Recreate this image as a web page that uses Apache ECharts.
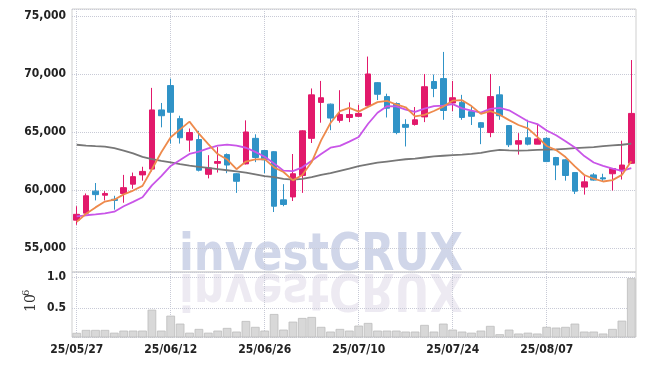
<!DOCTYPE html>
<html>
<head>
<meta charset="utf-8">
<script src="https://cdn.jsdelivr.net/npm/echarts@6/dist/echarts.min.js"></script>
<style>
html,body{margin:0;padding:0;background:#fff;}
#chart{width:645px;height:366px;}
</style>
</head>
<body>
<div id="chart"></div>
<script>
const dates = ['25/05/27','25/05/28','25/05/29','25/05/30','25/06/02','25/06/04','25/06/05','25/06/09','25/06/10','25/06/11',
'25/06/12','25/06/13','25/06/16','25/06/17','25/06/18','25/06/19','25/06/20','25/06/23','25/06/24','25/06/25',
'25/06/26','25/06/27','25/06/30','25/07/01','25/07/02','25/07/03','25/07/04','25/07/07','25/07/08','25/07/09',
'25/07/10','25/07/11','25/07/14','25/07/15','25/07/16','25/07/17','25/07/18','25/07/21','25/07/22','25/07/23',
'25/07/24','25/07/25','25/07/28','25/07/29','25/07/30','25/07/31','25/08/01','25/08/04','25/08/05','25/08/06',
'25/08/07','25/08/08','25/08/11','25/08/12','25/08/13','25/08/14','25/08/18','25/08/19','25/08/20','25/08/21'];

const opens = [57400,58000,59900,59550,59200,59700,60500,61300,61800,66900,
69000,66150,64300,64350,61350,62300,63050,61400,62250,64450,
63400,63300,59150,59400,61250,64450,67550,67400,66000,66250,
66350,67250,69250,68050,67450,65650,65650,66300,69350,69600,
67500,67550,66750,65800,64950,68200,65550,63950,64500,63950,
64450,62800,62600,61500,60250,61300,61050,61400,61650,62300];

const closes = [57900,59500,59600,59700,59100,60200,61150,61600,66900,66400,
66700,64500,64950,61700,61900,62450,62150,60750,65000,62800,
62600,58600,58750,61400,65100,68200,67950,66200,66500,66500,
66600,70000,68250,67050,64950,65400,66050,68900,68750,66850,
67950,66250,66350,65400,68050,66400,63900,64250,63950,64400,
62450,62150,61250,59900,60700,60850,60950,61850,62150,66600];

const lows = [57000,57900,59100,59100,58300,58900,60100,60800,61600,65400,
64000,64000,63300,61600,61000,61500,61450,59750,62200,62400,
61450,58100,58600,59050,59750,64050,65800,65150,65800,65850,
66300,67200,67750,66250,64800,63750,65550,65850,68000,66050,
66800,66050,65600,63950,64550,66050,63700,63050,63850,63950,
62400,60850,60800,59650,59600,60800,60750,59950,60900,62250];

const highs = [58600,59700,60600,59900,59500,61300,61500,62000,68800,67500,
69600,66400,65300,65100,63000,63700,63150,61450,66000,64800,
63400,63350,60500,63100,65150,68750,69400,67450,68600,67550,
67350,71500,69300,68300,67550,66100,67150,70000,69950,71900,
69400,68200,67150,65850,70000,68950,65600,64900,66050,65700,
64550,62850,62650,61550,61200,61450,61400,61900,64250,71200];

const ma5 = [57250,57950,58500,59000,59160,59620,59950,60350,61790,63250,
64550,65220,65890,64850,63950,63100,62630,61790,62450,62630,
62660,61950,61550,60830,61290,62410,64280,65770,66790,67070,
66750,67160,67570,67680,67370,67130,66340,66470,66810,67190,
67700,67740,67230,66560,66800,66490,66020,65600,65310,64580,
63790,63440,62840,62030,61290,60970,60730,60850,61300,62480];

const ma10 = [57730,57820,57900,57990,58130,58600,58970,59370,60400,61195,
62075,62575,63110,63310,63590,63815,63915,63830,63640,63280,
62870,62280,61660,61630,61950,62525,63105,63650,63800,64170,
64570,65710,66660,67225,67210,66930,66740,67010,67235,67270,
67405,67030,66840,66675,66985,67085,66870,66405,65925,65680,
65130,64720,64210,63660,62925,62370,62075,61835,61655,61875];

const maLong = [63900,63830,63780,63740,63600,63400,63150,62850,62650,62500,
62380,62230,62100,62000,61900,61800,61700,61600,61500,61350,
61200,61100,60950,60900,60950,61100,61300,61450,61650,61850,
62050,62200,62350,62450,62550,62650,62700,62800,62900,62950,
63000,63050,63120,63200,63350,63450,63420,63400,63420,63450,
63480,63500,63550,63600,63650,63700,63780,63850,63900,63990];

const volumes = [97000,145000,145000,145000,100000,134000,134000,134000,473000,134000,
376000,247000,100000,161000,100000,134000,177000,118000,290000,194000,
134000,403000,150000,279000,339000,355000,194000,118000,161000,134000,
215000,258000,134000,134000,134000,118000,118000,226000,118000,247000,
150000,118000,100000,134000,210000,75000,150000,86000,100000,86000,
194000,183000,194000,247000,118000,118000,86000,161000,295000,984000];

const watermarkText = 'investCRUX';
const volUnitBase = '10';
const volUnitExp = '6';

const candleData = opens.map((o, i) => [o, closes[i], lows[i], highs[i]]);

const UP = '#e2196b', DOWN = '#3093c7';
const FONT = '"DejaVu Sans Condensed", "DejaVu Sans", sans-serif';
const WM_FONT = 'bold 52px "DejaVu Sans Condensed", "DejaVu Sans", sans-serif';
const gridLine = { show: true, lineStyle: { type: 'dotted', color: '#c8cad6', width: 1 } };
const labelStyle = { color: '#222', fontFamily: FONT, fontSize: 12, fontWeight: 'bold' };

// measure watermark width to squeeze it into the reference span
const mctx = document.createElement('canvas').getContext('2d');
mctx.font = WM_FONT;
const wmW = mctx.measureText(watermarkText).width;
const wmScaleX = 284 / wmW;

const chart = echarts.init(document.getElementById('chart'), null, { renderer: 'canvas' });

const option = {
  animation: false,
  backgroundColor: '#fff',
  graphic: [
    { type: 'text', x: 179, y: 272, scaleX: wmScaleX, z: 0, silent: true,
      style: { text: watermarkText, x: 0, y: 10, font: WM_FONT, fill: 'rgba(192,200,225,0.75)', textAlign: 'left', textVerticalAlign: 'bottom' } },
    { type: 'text', x: 179, y: 272, scaleX: wmScaleX, scaleY: -1, z: 0, silent: true,
      style: { text: watermarkText, x: 0, y: 10, font: WM_FONT, fill: 'rgba(212,204,224,0.42)', textAlign: 'left', textVerticalAlign: 'bottom' } },
    { type: 'text', x: 38, y: 312, rotation: Math.PI / 2, silent: true,
      style: { text: volUnitBase, x: 0, y: 0, font: '14px "DejaVu Serif"', fill: '#333', textAlign: 'left', textVerticalAlign: 'bottom' } },
    { type: 'text', x: 31, y: 296, rotation: Math.PI / 2, silent: true,
      style: { text: volUnitExp, x: 0, y: 0, font: '10px "DejaVu Serif"', fill: '#333', textAlign: 'left', textVerticalAlign: 'bottom' } }
  ],
  grid: [
    { left: 72, right: 9, top: 9, height: 263, show: true, borderColor: '#cfcfcf', borderWidth: 1, backgroundColor: 'transparent' },
    { left: 72, right: 9, top: 272, height: 65, show: true, borderColor: '#cfcfcf', borderWidth: 1, backgroundColor: 'transparent' }
  ],
  xAxis: [
    { type: 'category', gridIndex: 0, data: dates, boundaryGap: true,
      axisLine: { show: false }, axisTick: { show: false }, axisLabel: { show: false },
      splitLine: Object.assign({ interval: 9, alignWithLabel: true }, gridLine) },
    { type: 'category', gridIndex: 1, data: dates, boundaryGap: true,
      axisLine: { show: false }, axisTick: { show: false },
      axisLabel: Object.assign({ interval: 9, margin: 7 }, labelStyle),
      splitLine: Object.assign({ interval: 9, alignWithLabel: true }, gridLine) }
  ],
  yAxis: [
    { type: 'value', gridIndex: 0, min: 52930, max: 75600, scale: true,
      axisLine: { show: false }, axisTick: { show: false },
      axisLabel: Object.assign({ showMinLabel: false, showMaxLabel: false, margin: 6,
        formatter: v => v.toLocaleString('en-US') }, labelStyle),
      splitLine: gridLine },
    { type: 'value', gridIndex: 1, min: 30000, max: 1085000, splitNumber: 2,
      axisLine: { show: false }, axisTick: { show: false },
      axisLabel: Object.assign({ showMinLabel: false, showMaxLabel: false, margin: 6,
        formatter: v => (v / 1e6).toFixed(1) }, labelStyle),
      splitLine: gridLine }
  ],
  series: [
    { type: 'candlestick', xAxisIndex: 0, yAxisIndex: 0, data: candleData, barWidth: 6, z: 3,
      itemStyle: { color: UP, color0: DOWN, borderColor: UP, borderColor0: DOWN, borderWidth: 1 } },
    { type: 'line', xAxisIndex: 0, yAxisIndex: 0, data: maLong, symbol: 'none', z: 4,
      lineStyle: { color: '#777777', width: 1.8 } },
    { type: 'line', xAxisIndex: 0, yAxisIndex: 0, data: ma10, symbol: 'none', z: 5,
      lineStyle: { color: '#c955e8', width: 1.8 } },
    { type: 'line', xAxisIndex: 0, yAxisIndex: 0, data: ma5, symbol: 'none', z: 6,
      lineStyle: { color: '#ee8a4c', width: 1.8 } },
    { type: 'bar', xAxisIndex: 1, yAxisIndex: 1, data: volumes, barWidth: '92%', z: 3,
      itemStyle: { color: '#d8d8d8', borderColor: '#bdbdbd', borderWidth: 0.8 } }
  ]
};
chart.setOption(option);
</script>
</body>
</html>
